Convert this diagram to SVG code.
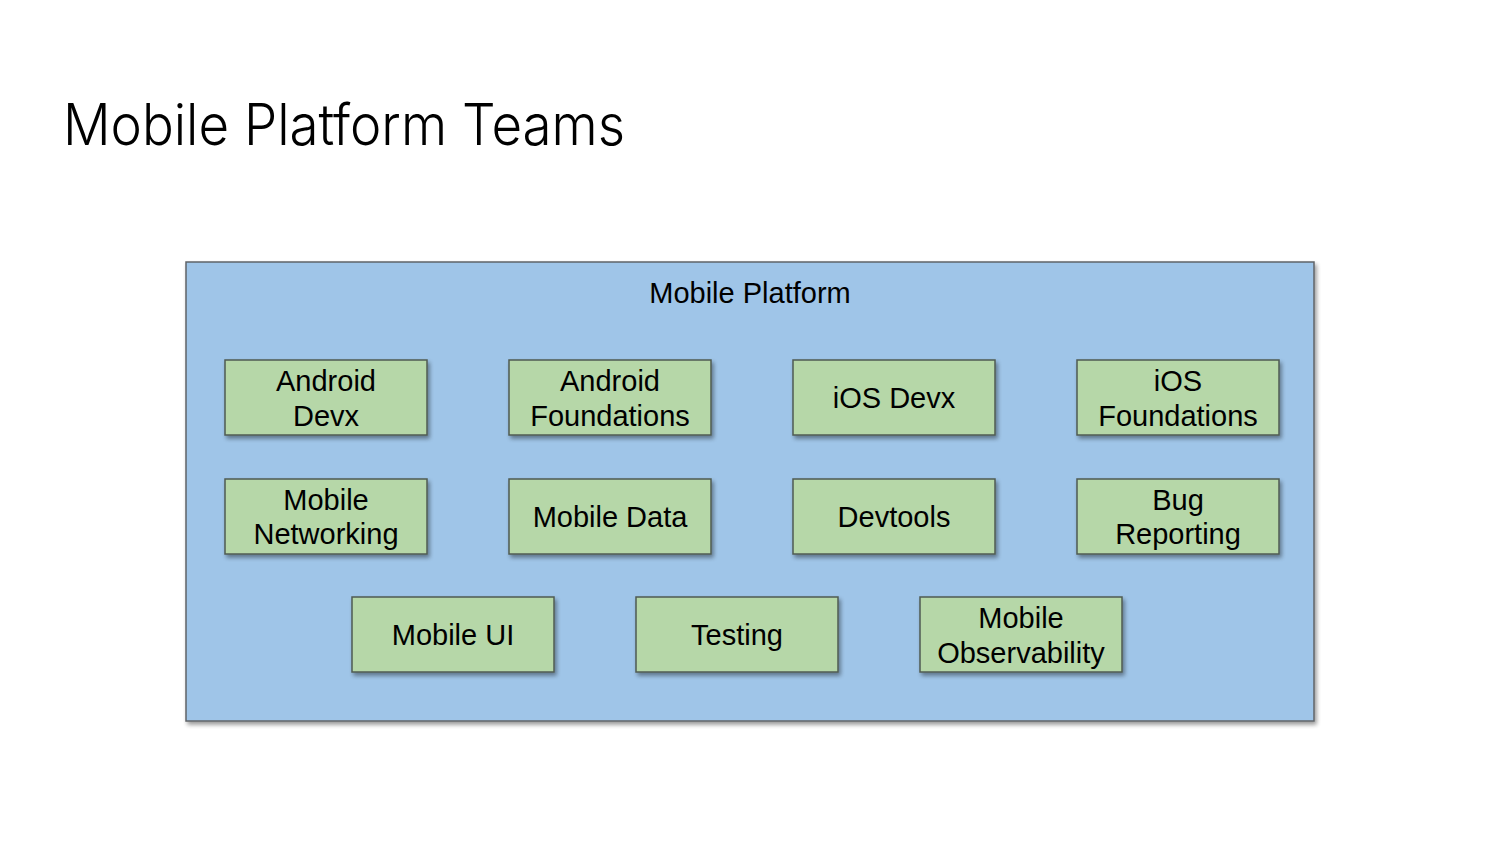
<svg xmlns="http://www.w3.org/2000/svg" width="1500" height="844" viewBox="0 0 1500 844">
<defs>
<filter id="sh" x="-10%" y="-10%" width="130%" height="130%">
<feGaussianBlur in="SourceAlpha" stdDeviation="2"/>
<feOffset dx="2" dy="3" result="b"/>
<feComponentTransfer><feFuncA type="linear" slope="0.4"/></feComponentTransfer>
<feMerge><feMergeNode/><feMergeNode in="SourceGraphic"/></feMerge>
</filter>
<style>
.title{font-family:Inter,"Liberation Sans",sans-serif;font-size:57px;font-weight:300;fill:#000;}
.box{fill:#9FC5E8;stroke:#5f6368;stroke-width:1.5;}
.node{fill:#B6D7A8;stroke:#4f5b52;stroke-width:1.5;}
.t{font-family:"Liberation Sans",Arial,sans-serif;font-size:29px;fill:#000;text-anchor:middle;}
</style>
</defs>
<rect width="1500" height="844" fill="#fff"/>
<text class="title" x="63" y="145" textLength="562" lengthAdjust="spacingAndGlyphs">Mobile Platform Teams</text>
<g id="mobile-platform">
<rect class="box" x="186" y="262" width="1128" height="459" filter="url(#sh)"/>
<text class="t" x="750" y="303">Mobile Platform</text>
</g>
<g id="android-devx"><rect class="node" x="225" y="360" width="202" height="75" filter="url(#sh)"/><text class="t" x="326" y="391">Android</text><text class="t" x="326" y="426">Devx</text></g>
<g id="android-foundations"><rect class="node" x="509" y="360" width="202" height="75" filter="url(#sh)"/><text class="t" x="610" y="391">Android</text><text class="t" x="610" y="426">Foundations</text></g>
<g id="ios-devx"><rect class="node" x="793" y="360" width="202" height="75" filter="url(#sh)"/><text class="t" x="894" y="408">iOS Devx</text></g>
<g id="ios-foundations"><rect class="node" x="1077" y="360" width="202" height="75" filter="url(#sh)"/><text class="t" x="1178" y="391">iOS</text><text class="t" x="1178" y="426">Foundations</text></g>
<g id="mobile-networking"><rect class="node" x="225" y="479" width="202" height="75" filter="url(#sh)"/><text class="t" x="326" y="510">Mobile</text><text class="t" x="326" y="544">Networking</text></g>
<g id="mobile-data"><rect class="node" x="509" y="479" width="202" height="75" filter="url(#sh)"/><text class="t" x="610" y="527">Mobile Data</text></g>
<g id="devtools"><rect class="node" x="793" y="479" width="202" height="75" filter="url(#sh)"/><text class="t" x="894" y="527">Devtools</text></g>
<g id="bug-reporting"><rect class="node" x="1077" y="479" width="202" height="75" filter="url(#sh)"/><text class="t" x="1178" y="510">Bug</text><text class="t" x="1178" y="544">Reporting</text></g>
<g id="mobile-ui"><rect class="node" x="352" y="597" width="202" height="75" filter="url(#sh)"/><text class="t" x="453" y="645">Mobile UI</text></g>
<g id="testing"><rect class="node" x="636" y="597" width="202" height="75" filter="url(#sh)"/><text class="t" x="737" y="645">Testing</text></g>
<g id="mobile-observability"><rect class="node" x="920" y="597" width="202" height="75" filter="url(#sh)"/><text class="t" x="1021" y="628">Mobile</text><text class="t" x="1021" y="663">Observability</text></g>
<g id="connectors"/>
</svg>
